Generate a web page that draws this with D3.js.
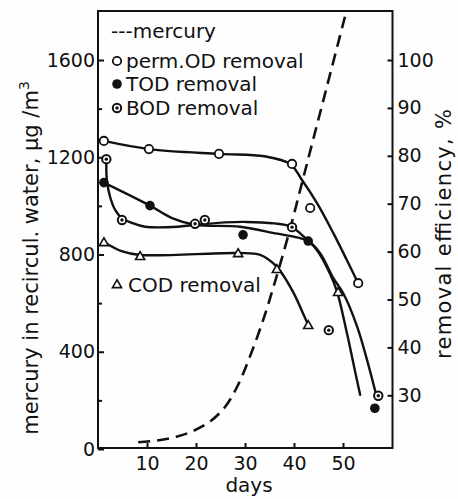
<!DOCTYPE html>
<html>
<head>
<meta charset="utf-8">
<script src="https://cdn.jsdelivr.net/npm/d3@7"></script>
<style>
  body { margin: 0; background: #fefefe; }
  svg { display: block; }
  text { font-family: "DejaVu Sans", sans-serif; fill: #111; }
</style>
</head>
<body>
<svg width="458" height="499"></svg>
<script>
// values
// mercury in recirculated water (left axis, ug/m3), dashed
const mercuryDays = [8.2, 12, 16, 19.5, 23, 26, 28.5, 31, 33.7, 36.3, 39.2, 41.6, 43.7, 46, 50.4]
const mercuryVals = [28, 35, 50, 75, 115, 175, 260, 380, 530, 700, 905, 1092, 1256, 1435, 1778]

// removal efficiencies (right axis, %) - measured points
const permODDays = [1.2, 10.4, 24.7, 39.6, 43.3, 53.1]
const permODPct  = [83.1, 81.4, 80.4, 78.3, 69.1, 53.4]
const todDays = [1.2, 10.6, 29.6, 42.9, 56.5]
const todPct  = [74.4, 69.6, 63.5, 62.2, 27.3]
const bodDays = [1.7, 4.9, 19.8, 21.8, 39.6, 47.1, 57.2]
const bodPct  = [79.3, 66.6, 65.8, 66.6, 65.1, 43.6, 29.9]
const codDays = [1.2, 8.6, 28.6, 36.5, 42.9, 49.0]
const codPct  = [62.0, 59.1, 59.7, 56.4, 44.7, 51.6]

// hand-drawn fitted curves
const permFitDays = [1.2, 10.4, 24.7, 34, 39.2, 41.6, 44.7, 48.0, 50.8, 53.1]
const permFitPct  = [83.1, 81.4, 80.4, 79.9, 78.3, 75.0, 70.1, 63.9, 58.2, 53.4]
const todFitDays = [1.2, 10.6, 15.1, 19.8, 29.0, 35.7, 42.9, 45.3, 48.0, 50.0, 52.9, 54.9, 56.8]
const todFitPct  = [74.4, 69.6, 67.0, 65.6, 65.2, 63.9, 62.2, 59.7, 54.5, 51.4, 44.3, 37.4, 30.0]
const bodFitDays = [1.7, 1.8, 2.45, 3.5, 4.85, 6.9, 9.6, 16.3, 19.8, 30.0, 39.2, 41.6, 44.7, 47.3, 48.8, 50.8, 52.4, 53.5]
const bodFitPct  = [79.3, 75.0, 71.5, 68.7, 67.0, 66.0, 65.2, 65.2, 65.6, 66.2, 65.3, 63.5, 60.3, 55.5, 51.6, 43.0, 35.3, 30.1]
const codFitDays = [1.2, 4.8, 8.6, 28.6, 33.1, 36.5, 39.8, 41.8, 42.9]
const codFitPct  = [62.0, 60.1, 59.3, 59.7, 59.3, 56.8, 51.6, 47.2, 44.7]

const leftTicks  = [0, 400, 800, 1200, 1600]
const leftMinor  = [200, 600, 1000, 1400]
const rightTicks = [30, 40, 50, 60, 70, 80, 90, 100]
const dayTicks   = [10, 20, 30, 40, 50]

const svg = d3.select("svg")
const plot = { left: 98, right: 392.5, top: 11, bottom: 448 }

const x  = d3.scaleLinear().domain([0, 60]).range([98, 392])
const yL = d3.scaleLinear().domain([0, 1600]).range([449, 60])
const yR = d3.scaleLinear().domain([30, 100]).range([395.3, 60])

const ink = "#111"
const zip = (a, b) => a.map((d, i) => [d, b[i]])

// frame
svg.append("rect")
  .attr("x", plot.left).attr("y", plot.top)
  .attr("width", plot.right - plot.left).attr("height", plot.bottom - plot.top)
  .attr("fill", "none").attr("stroke", ink).attr("stroke-width", 2)

// axes, ticks pointing inwards
const styleAxis = g => {
  g.select(".domain").remove()
  g.selectAll("line").attr("stroke", ink).attr("stroke-width", 2)
  g.selectAll("text").style("font-size", "19px").attr("fill", ink)
}
svg.append("g").attr("transform", `translate(${plot.left},0)`)
  .call(d3.axisLeft(yL).tickValues(leftTicks).tickSize(-6).tickPadding(3).tickFormat(d3.format("d")))
  .call(styleAxis)
svg.append("g").attr("transform", `translate(${plot.left},0)`)
  .call(d3.axisLeft(yL).tickValues(leftMinor).tickSize(-4).tickFormat(""))
  .call(styleAxis)
svg.append("g").attr("transform", `translate(${plot.right},0)`)
  .call(d3.axisRight(yR).tickValues(rightTicks).tickSize(-5).tickPadding(5))
  .call(styleAxis)
svg.append("g").attr("transform", `translate(0,${plot.bottom})`)
  .call(d3.axisBottom(x).tickValues(dayTicks).tickSize(-5).tickPadding(9))
  .call(styleAxis)

// axis titles
const lt = svg.append("text")
  .attr("transform", "translate(38,258) rotate(-90)")
  .attr("text-anchor", "middle").style("font-size", "21px")
lt.append("tspan").text("mercury in recircul. water, \u00b5g /m")
lt.append("tspan").attr("dy", -9).style("font-size", "14px").text("3")

svg.append("text")
  .attr("transform", "translate(451,234) rotate(-90)")
  .attr("text-anchor", "middle").style("font-size", "21px")
  .attr("textLength", 250).attr("lengthAdjust", "spacing")
  .text("removal efficiency, %")

svg.append("text")
  .attr("x", 249).attr("y", 492)
  .attr("text-anchor", "middle").style("font-size", "20px")
  .text("days")

// curves
const smooth = d3.curveCatmullRom.alpha(0.5)
const lineR = d3.line().x(d => x(d[0])).y(d => yR(d[1])).curve(smooth)
const lineL = d3.line().x(d => x(d[0])).y(d => yL(d[1])).curve(smooth)

const curves = [
  zip(permFitDays, permFitPct),
  zip(todFitDays, todFitPct),
  zip(bodFitDays, bodFitPct),
  zip(codFitDays, codFitPct)
]
svg.append("g").selectAll("path")
  .data(curves).join("path")
    .attr("d", lineR)
    .attr("fill", "none").attr("stroke", ink)
    .attr("stroke-width", 2.4).attr("stroke-linecap", "round")

svg.append("path")
  .attr("d", lineL(zip(mercuryDays, mercuryVals)))
  .attr("fill", "none").attr("stroke", ink)
  .attr("stroke-width", 2.6).attr("stroke-dasharray", "12 7")

// marker painters
function openCircle(g, cx, cy) {
  g.append("circle").attr("cx", cx).attr("cy", cy).attr("r", 4.2)
    .attr("fill", "#fff").attr("stroke", ink).attr("stroke-width", 1.8)
}
function filledCircle(g, cx, cy) {
  g.append("circle").attr("cx", cx).attr("cy", cy).attr("r", 4.8).attr("fill", ink)
}
function dotCircle(g, cx, cy) {
  g.append("circle").attr("cx", cx).attr("cy", cy).attr("r", 4.2)
    .attr("fill", "#fff").attr("stroke", ink).attr("stroke-width", 2)
  g.append("circle").attr("cx", cx).attr("cy", cy).attr("r", 1.7).attr("fill", ink)
}
function triangle(g, cx, cy) {
  g.append("path").attr("d", d3.symbol(d3.symbolTriangle, 36)())
    .attr("transform", `translate(${cx},${cy + 1})`)
    .attr("fill", "#fff").attr("stroke", ink).attr("stroke-width", 1.6)
}

const marks = svg.append("g")
zip(permODDays, permODPct).forEach(d => openCircle(marks, x(d[0]), yR(d[1])))
zip(todDays, todPct).forEach(d => filledCircle(marks, x(d[0]), yR(d[1])))
zip(bodDays, bodPct).forEach(d => dotCircle(marks, x(d[0]), yR(d[1])))
zip(codDays, codPct).forEach(d => triangle(marks, x(d[0]), yR(d[1])))

// legend inside the frame
const leg = svg.append("g").style("font-size", "20px")
leg.append("text").attr("x", 111).attr("y", 38).text("---mercury")
openCircle(leg, 117, 61)
leg.append("text").attr("x", 126).attr("y", 68).text("perm.OD removal")
filledCircle(leg, 117, 84)
leg.append("text").attr("x", 126).attr("y", 91).text("TOD removal")
dotCircle(leg, 117, 108)
leg.append("text").attr("x", 126).attr("y", 115).text("BOD removal")
triangle(leg, 117, 284)
leg.append("text").attr("x", 128).attr("y", 292).text("COD removal")
</script>
</body>
</html>
